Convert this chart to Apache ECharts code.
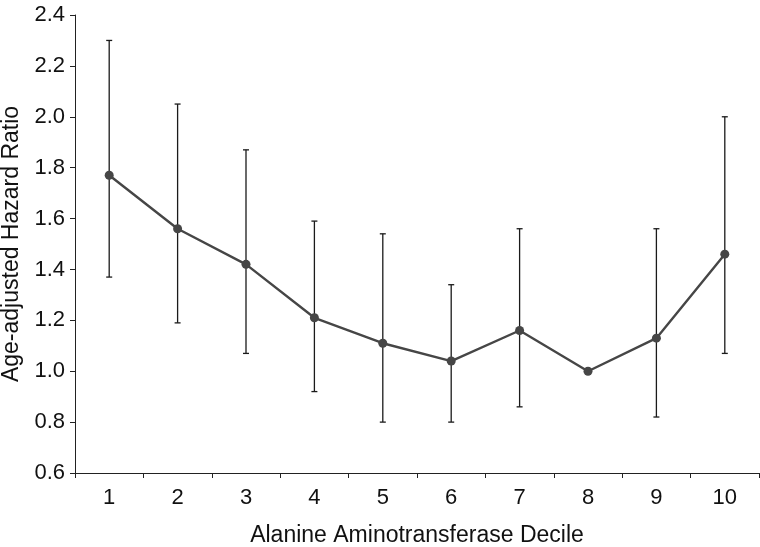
<!DOCTYPE html>
<html>
<head>
<meta charset="utf-8">
<script src="https://cdn.jsdelivr.net/npm/echarts@6/dist/echarts.min.js"></script>
<style>html,body{margin:0;padding:0;background:#fff}#c{width:760px;height:547px}</style>
</head>
<body>
<div id="c"></div>
<script>
const categories = ['1','2','3','4','5','6','7','8','9','10'];
const hazardRatio = [1.77, 1.56, 1.42, 1.21, 1.11, 1.04, 1.16, 1.00, 1.13, 1.46];
const upperCI = [2.30, 2.05, 1.87, 1.59, 1.54, 1.34, 1.56, null, 1.56, 2.00];
const lowerCI = [1.37, 1.19, 1.07, 0.92, 0.80, 0.80, 0.86, null, 0.82, 1.07];

const errData = categories.map((c, i) => [i, lowerCI[i], upperCI[i]]).filter(d => d[1] != null);

const chart = echarts.init(document.getElementById('c'));
const font = 'Liberation Sans, Arial, Helvetica, sans-serif';
chart.setOption({
  animation: false,
  grid: { left: 75, right: 1, top: 15, bottom: 74, containLabel: false, outerBoundsMode: 'none' },
  xAxis: {
    type: 'category',
    data: categories,
    boundaryGap: true,
    name: 'Alanine Aminotransferase Decile',
    nameLocation: 'middle',
    nameGap: 51,
    nameTextStyle: { fontFamily: font, fontSize: 23, color: '#111' },
    axisLine: { lineStyle: { color: '#222', width: 1 } },
    axisTick: { show: true, length: 5, lineStyle: { color: '#222' } },
    axisLabel: { fontFamily: font, fontSize: 22, color: '#111', margin: 14 }
  },
  yAxis: {
    type: 'value',
    min: 0.6, max: 2.4, interval: 0.2,
    name: 'Age-adjusted Hazard Ratio',
    nameLocation: 'middle',
    nameGap: 50,
    nameTextStyle: { fontFamily: font, fontSize: 23, color: '#111' },
    splitLine: { show: false },
    axisLine: { show: true, lineStyle: { color: '#222', width: 1 } },
    axisTick: { show: true, length: 5, lineStyle: { color: '#222' } },
    axisLabel: { fontFamily: font, fontSize: 22, color: '#111', margin: 10,
      formatter: v => v.toFixed(1) }
  },
  series: [
    {
      type: 'custom',
      data: errData,
      z: 1,
      renderItem: function (params, api) {
        const x = api.coord([api.value(0), api.value(1)])[0];
        const lo = api.coord([api.value(0), api.value(1)])[1];
        const hi = api.coord([api.value(0), api.value(2)])[1];
        const w = 3;
        const style = { stroke: '#1a1a1a', lineWidth: 1.3 };
        return {
          type: 'group',
          children: [
            { type: 'line', shape: { x1: x, y1: lo, x2: x, y2: hi }, style },
            { type: 'line', shape: { x1: x - w, y1: hi, x2: x + w, y2: hi }, style },
            { type: 'line', shape: { x1: x - w, y1: lo, x2: x + w, y2: lo }, style }
          ]
        };
      }
    },
    {
      type: 'line',
      data: hazardRatio,
      z: 2,
      symbol: 'circle',
      symbolSize: 9,
      lineStyle: { color: '#464646', width: 2.4 },
      itemStyle: { color: '#464646' }
    }
  ]
});
</script>
</body>
</html>
